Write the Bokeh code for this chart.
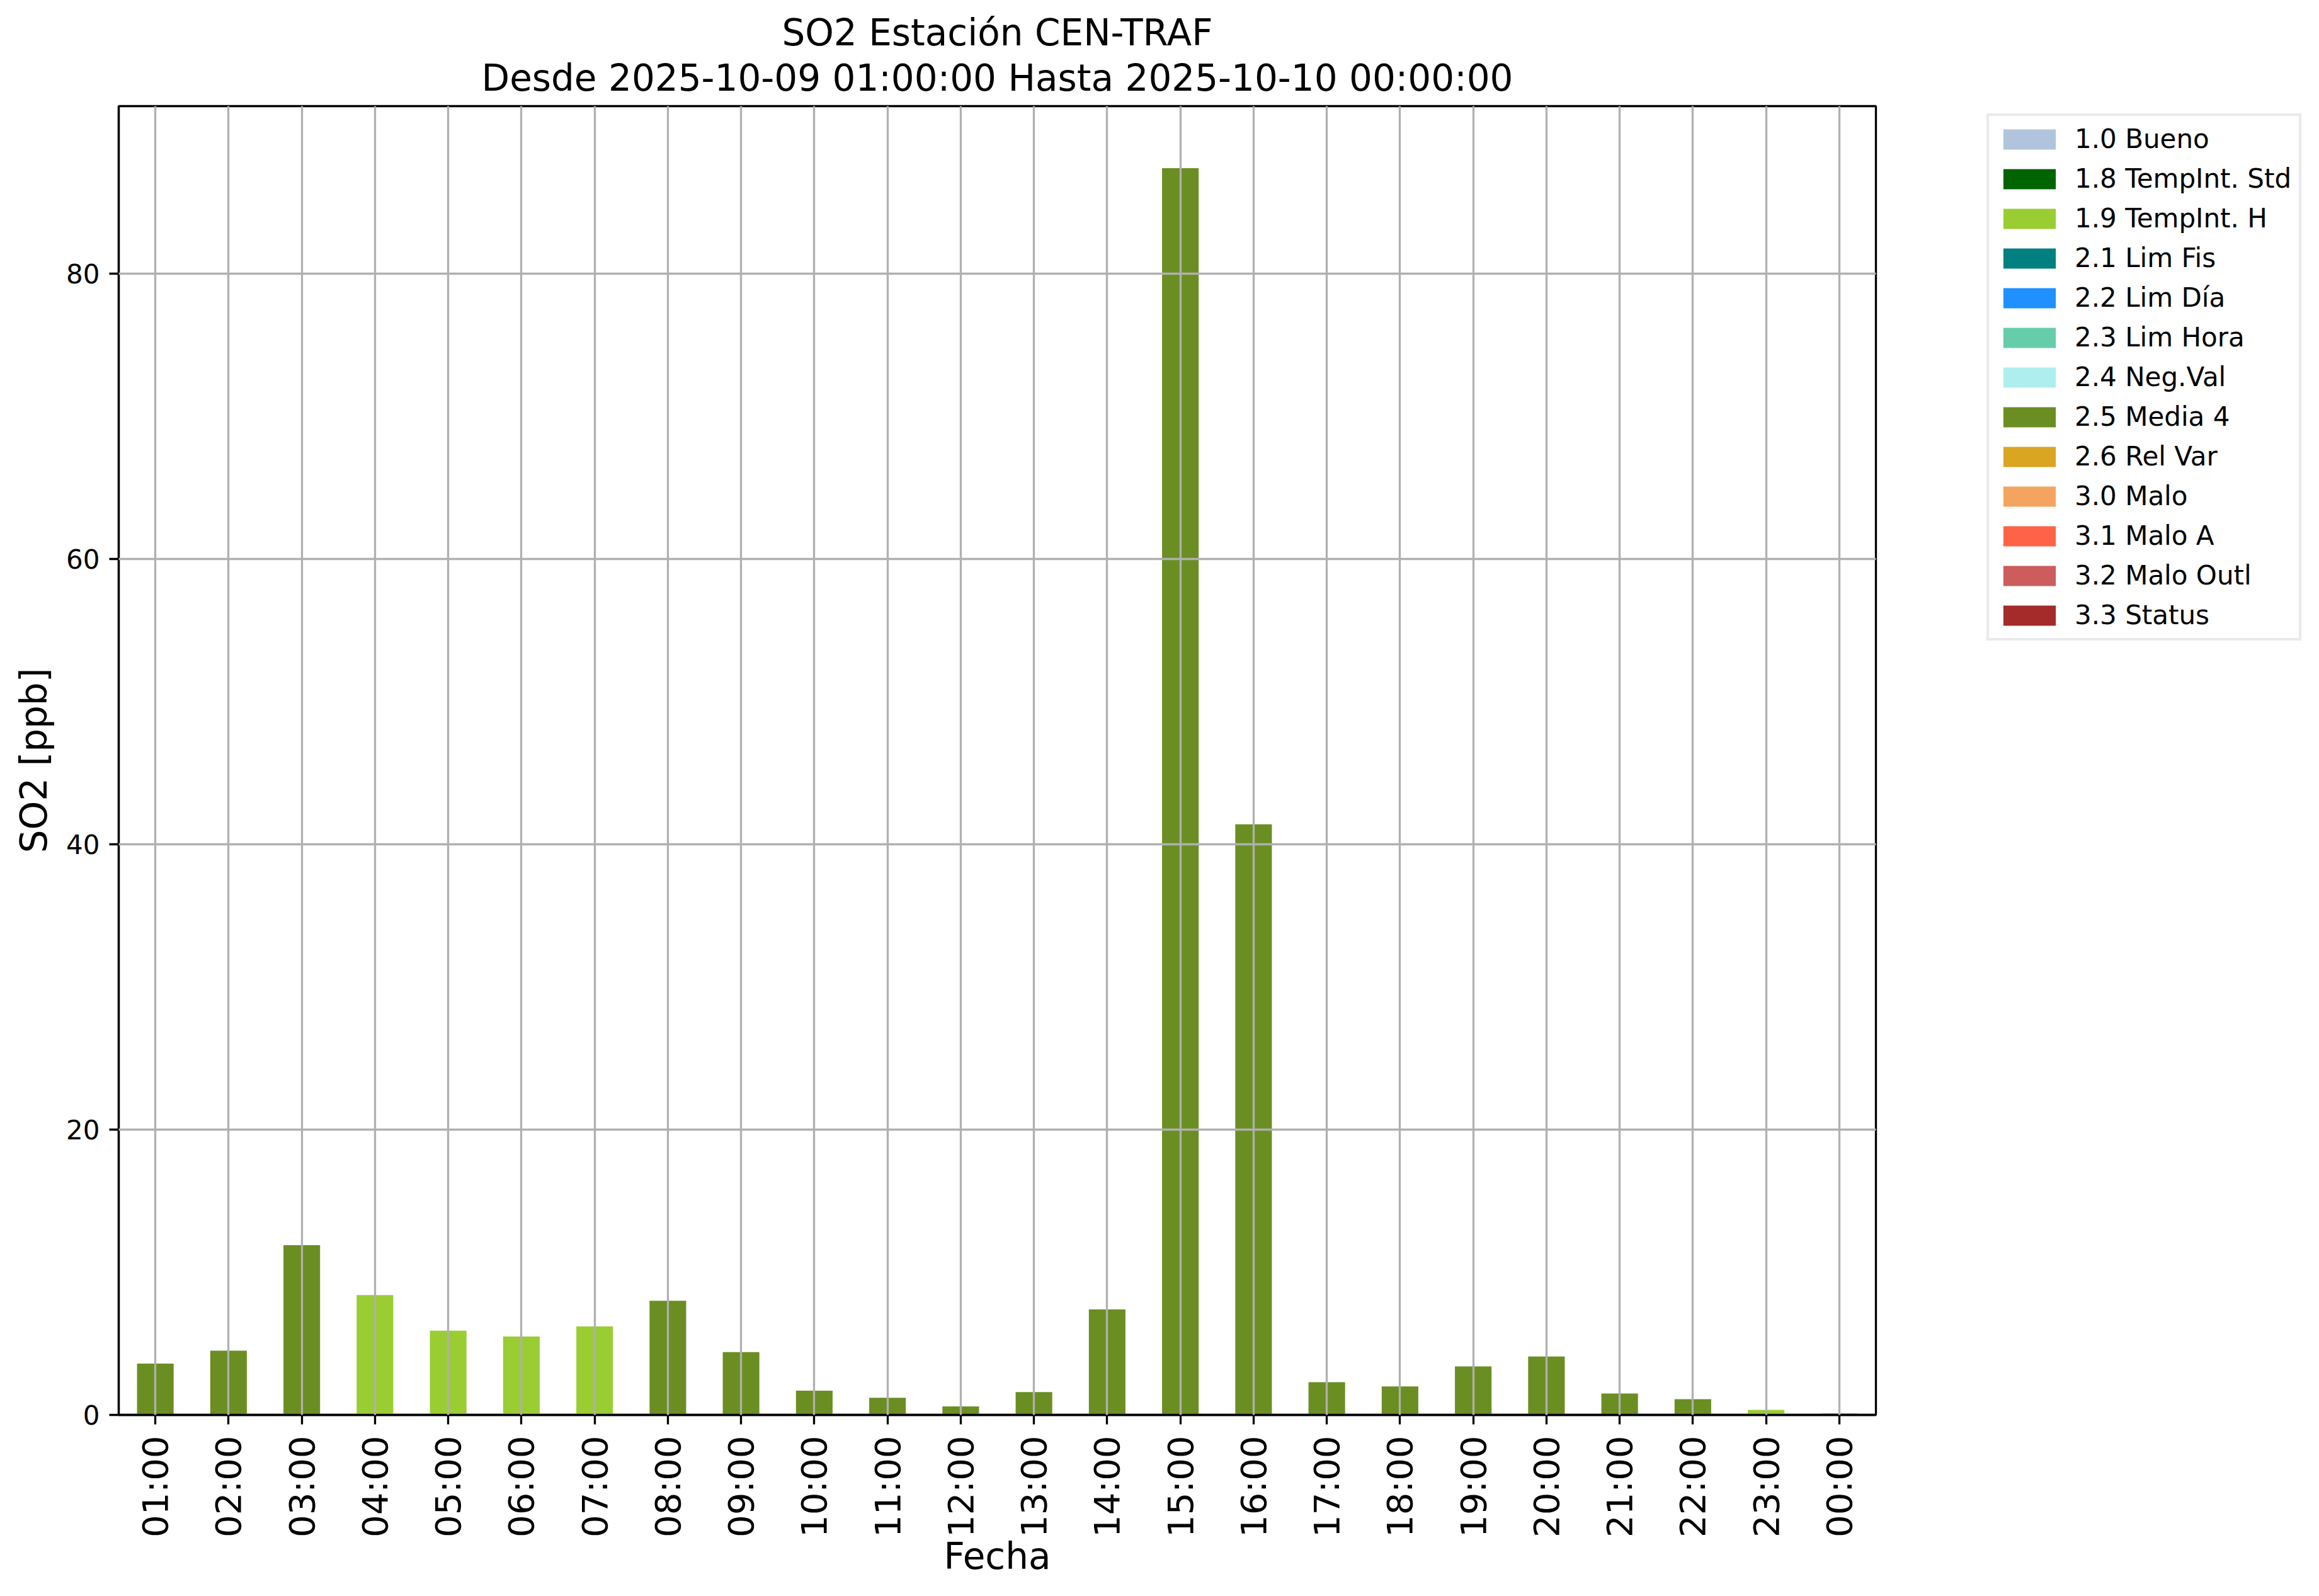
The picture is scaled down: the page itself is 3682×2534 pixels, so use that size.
import math
from bokeh.plotting import figure
from bokeh.models import (FactorRange, Range1d, ColumnDataSource, Legend, LegendItem,
                          Title, FixedTicker)
from bokeh.embed import file_html
from bokeh.resources import INLINE

# ---------------- data ----------------
hours = ["01:00", "02:00", "03:00", "04:00", "05:00", "06:00", "07:00", "08:00",
         "09:00", "10:00", "11:00", "12:00", "13:00", "14:00", "15:00", "16:00",
         "17:00", "18:00", "19:00", "20:00", "21:00", "22:00", "23:00", "00:00"]
so2_values = [3.6, 4.5, 11.9, 8.4, 5.9, 5.5, 6.2, 8.0, 4.4, 1.7, 1.2, 0.6,
              1.6, 7.4, 87.4, 41.4, 2.3, 2.0, 3.4, 4.1, 1.5, 1.1, 0.35, 0.1]
flags = ["2.5 Media 4", "2.5 Media 4", "2.5 Media 4", "1.9 TempInt. H",
         "1.9 TempInt. H", "1.9 TempInt. H", "1.9 TempInt. H", "2.5 Media 4",
         "2.5 Media 4", "2.5 Media 4", "2.5 Media 4", "2.5 Media 4",
         "2.5 Media 4", "2.5 Media 4", "2.5 Media 4", "2.5 Media 4",
         "2.5 Media 4", "2.5 Media 4", "2.5 Media 4", "2.5 Media 4",
         "2.5 Media 4", "2.5 Media 4", "1.9 TempInt. H", "2.5 Media 4"]

legend_labels = ["1.0 Bueno", "1.8 TempInt. Std", "1.9 TempInt. H", "2.1 Lim Fis",
                 "2.2 Lim Día", "2.3 Lim Hora", "2.4 Neg.Val", "2.5 Media 4",
                 "2.6 Rel Var", "3.0 Malo", "3.1 Malo A", "3.2 Malo Outl", "3.3 Status"]
legend_colors = ["#B0C4DE", "#006400", "#9ACD32", "#008080", "#1E90FF", "#66CDAA",
                 "#AFEEEE", "#6B8E23", "#DAA520", "#F4A460", "#FF6347", "#CD5C5C",
                 "#A52A2A"]

title_line1 = "SO2 Estación CEN-TRAF"
title_line2 = "Desde 2025-10-09 01:00:00 Hasta 2025-10-10 00:00:00"
x_label = "Fecha"
y_label = "SO2 [ppb]"
y_ticks = [0, 20, 40, 60, 80]
y_max = 91.75

# ---------------- figure ----------------
FONT = "DejaVu Sans"
FRAME_W, FRAME_H = 2790, 2078

color_of = dict(zip(legend_labels, legend_colors))
source = ColumnDataSource(dict(hour=hours, value=so2_values,
                               color=[color_of[f] for f in flags]))

p = figure(x_range=FactorRange(*hours, range_padding=0),
           y_range=Range1d(0, y_max),
           frame_width=FRAME_W, frame_height=FRAME_H,
           min_border_left=188, min_border_top=168,
           min_border_right=688, min_border_bottom=272,
           output_backend="svg", toolbar_location=None, title=None)
p.background_fill_color = "white"
p.border_fill_color = "white"
p.outline_line_color = "black"
p.outline_line_width = 3.3

p.vbar(x="hour", top="value", width=0.5, source=source,
       fill_color="color", line_color=None)

# grid over bars
for g in (p.xgrid, p.ygrid):
    g.grid_line_color = "#b0b0b0"
    g.grid_line_width = 3.3
    g.level = "annotation"
p.ygrid.ticker = FixedTicker(ticks=y_ticks)

# axes
p.yaxis.ticker = FixedTicker(ticks=y_ticks)
for ax in (p.xaxis, p.yaxis):
    ax.axis_line_color = "black"
    ax.axis_line_width = 3.3
    ax.major_tick_line_color = "black"
    ax.major_tick_line_width = 3.3
    ax.major_tick_out = 15
    ax.major_tick_in = 0
    ax.minor_tick_line_color = None
    ax.major_label_text_font = FONT
    ax.major_label_text_color = "black"
    ax.axis_label_text_font = FONT
    ax.axis_label_text_font_style = "normal"
    ax.axis_label_text_font_size = "58px"
    ax.axis_label_text_color = "black"

p.yaxis.major_label_text_font_size = "42px"
p.yaxis.major_label_standoff = 15
p.yaxis.axis_label = y_label
p.yaxis.axis_label_standoff = 14

p.xaxis.major_label_text_font_size = "56px"
p.xaxis.major_label_orientation = math.pi / 2
p.xaxis.major_label_standoff = 18
p.xaxis.axis_label = x_label
p.xaxis.axis_label_standoff = -7

# two-line title, each line centred over the frame
# (first added sits nearest the frame)
p.add_layout(Title(text=title_line2, align="center",
                   text_font=FONT, text_font_size="58px", text_font_style="normal",
                   text_color="black", standoff=22), "above")
p.add_layout(Title(text=title_line1, align="center",
                   text_font=FONT, text_font_size="58px", text_font_style="normal",
                   text_color="black", standoff=-18), "above")

# legend (one zero-height bar per entry so the swatch is drawn)
items = []
for lab, col in zip(legend_labels, legend_colors):
    r = p.vbar(x=[hours[0]], top=[0], bottom=[0], width=0.5,
               fill_color=col, line_color=None)
    items.append(LegendItem(label=lab, renderers=[r]))

legend = Legend(items=items, location=(176, 1229))
legend.glyph_width = 104
legend.glyph_height = 40
legend.label_standoff = 20
legend.padding = 12
legend.spacing = 14
legend.margin = 0
legend.label_text_font = FONT
legend.label_text_font_size = "42px"
legend.label_text_color = "black"
legend.border_line_color = "#d6d6d6"
legend.border_line_width = 4
legend.background_fill_color = "white"
legend.background_fill_alpha = 1.0
p.add_layout(legend, "right")

open("out.html", "w").write(file_html(p, INLINE))
